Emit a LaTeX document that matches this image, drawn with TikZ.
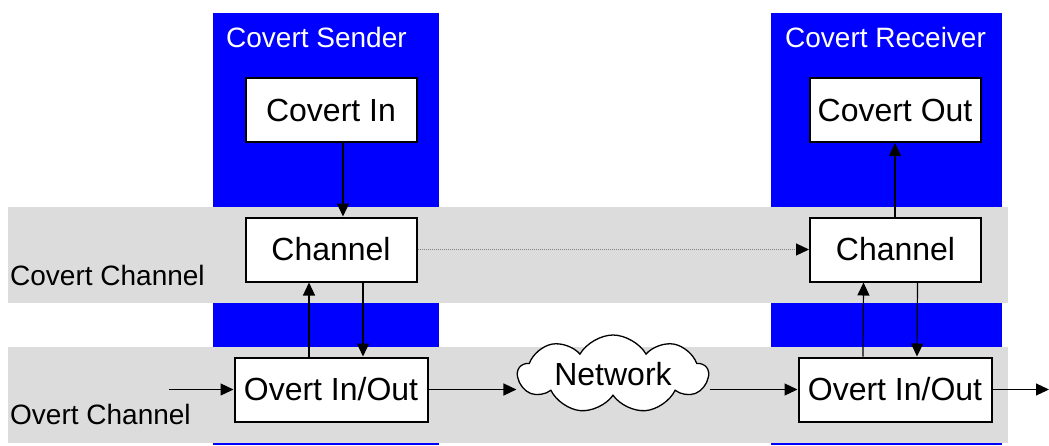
\documentclass[tikz,border=0pt]{standalone}
\usepackage{fontspec}
\setmainfont{Liberation Sans}
\usetikzlibrary{arrows.meta,shapes.symbols}
\definecolor{colblue}{RGB}{0,0,255}
\definecolor{bandgrey}{RGB}{220,220,220}
\tikzset{
  box/.style={draw=black, line width=2pt, fill=white, inner sep=0pt,
    minimum height=64pt, font=\fontsize{32}{38}\selectfont},
  smallbox/.style={box, minimum width=171pt},
  widebox/.style={box, minimum width=193pt},
  arr/.style={line width=1.2pt, -{Triangle[length=13pt,width=12pt]}},
  dotarr/.style={line width=1pt, draw=gray, dash pattern=on 1pt off 1pt,
    -{Triangle[length=13pt,width=12pt,color=black]}},
  lbl/.style={anchor=base west, inner sep=0pt, font=\fontsize{28}{34}\selectfont},
  netcloud/.style={cloud, draw=black, line width=1.3pt, fill=white, cloud puffs=9,
    cloud puff arc=120, cloud ignores aspect, minimum width=190pt, minimum height=78pt,
    inner sep=0pt, font=\fontsize{32}{38}\selectfont}
}
\begin{document}
\begin{tikzpicture}[x=1pt,y=-1pt]
\useasboundingbox (0,0) rectangle (1049,445);
% blue columns
\fill[colblue] (213,13) rectangle (439,445);
\fill[colblue] (771,13) rectangle (1002,445);
% grey bands
\fill[bandgrey] (8,207) rectangle (1008,303);
\fill[bandgrey] (8,347) rectangle (1008,443);
% labels
\node[lbl, text=white] (snd) at (226,47) {Covert Sender};
\node[lbl, text=white] (rcv) at (785,47) {Covert Receiver};
\node[lbl] (ccl) at (10,285) {Covert Channel};
\node[lbl] (ocl) at (10,424) {Overt Channel};
% boxes
\node[smallbox] (cin) at (331,110) {Covert In};
\node[smallbox] (chl) at (331,249.5) {Channel};
\node[widebox] (ovl) at (331,389.5) {Overt In/Out};
\node[smallbox] (cout) at (895,110) {Covert Out};
\node[smallbox] (chr) at (895.5,249.5) {Channel};
\node[widebox] (ovr) at (895,389.5) {Overt In/Out};
\node[netcloud] (net) at (613,374) {Network};
\coordinate (inp) at (169,389.5);
\coordinate (outp) at (1049,389.5);
% connectors
\draw[arr] ([xshift=12pt]cin.south) -- ([xshift=12pt]chl.north);
\draw[arr] ([xshift=-22pt]ovl.north) -- ([xshift=-22pt]chl.south);
\draw[arr] ([xshift=32pt]chl.south) -- ([xshift=32pt]ovl.north);
\draw[arr] (chr.north -| cout.south) -- (cout.south);
\draw[arr] ([xshift=-32pt]ovr.north) -- ([xshift=-32pt]chr.south);
\draw[arr] ([xshift=22pt]chr.south) -- ([xshift=22pt]ovr.north);
\draw[dotarr] (chl.east) -- (chr.west);
\draw[arr] (inp) -- (ovl.west);
\draw[arr] (ovl.east) -- (ovl.east -| net.west);
\draw[arr] (ovr.west -| net.east) -- (ovr.west);
\draw[arr] (ovr.east) -- (outp);
\end{tikzpicture}
\end{document}
